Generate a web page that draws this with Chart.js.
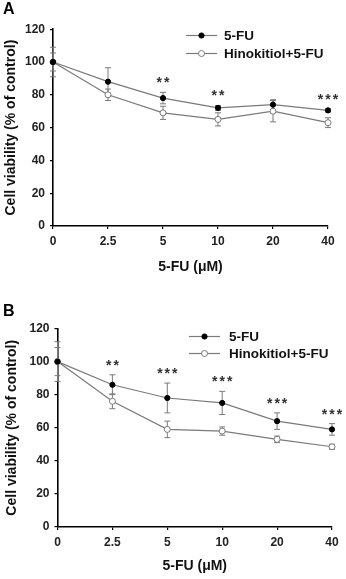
<!DOCTYPE html>
<html><head><meta charset="utf-8">
<script src="https://cdn.jsdelivr.net/npm/chart.js@4"></script>
<style>
html,body{margin:0;padding:0;background:#fff;width:346px;height:579px;overflow:hidden}
.p{position:absolute;left:0;width:346px}
#wa{top:0;height:290px}
#wb{top:290px;height:289px}
</style></head><body>
<div class="p" id="wa"><canvas id="ca"></canvas></div>
<div class="p" id="wb"><canvas id="cb"></canvas></div>
<script>
const doses = ['0', '2.5', '5', '10', '20', '40'];
const seriesNames = ['5-FU', 'Hinokitiol+5-FU'];
const xTitle = '5-FU (\u03BCM)';
const yTitle = 'Cell viability (% of control)';

// Panel A
const fuA = [100, 88, 78, 72, 74, 70.5];
const fuErrA = [9, 8.5, 3.5, 1.5, 3, 1];
const hinoA = [100, 80, 69, 65, 70, 63];
const hinoErrA = [5.5, 3.5, 4, 4, 6.5, 3];
const starsA = ['', '', '**', '**', '', '***'];

// Panel B
const fuB = [100, 86, 78, 75, 64, 59];
const fuErrB = [12, 6, 9, 7, 5, 3.5];
const hinoB = [100, 76, 59, 58, 53, 48.5];
const hinoErrB = [8.5, 4.5, 5, 2.5, 2, 1.5];
const starsB = ['', '**', '***', '***', '***', '***'];

const FONT = "'Liberation Sans', Arial, Helvetica, sans-serif";
const GRAY = '#7a7a7a';

const errorBarPlugin = {
  id: 'errorBars',
  beforeDatasetsDraw(chart) {
    const ctx = chart.ctx, ys = chart.scales.y, xs = chart.scales.x;
    ctx.save();
    ctx.strokeStyle = GRAY;
    ctx.lineWidth = 1;
    chart.data.datasets.forEach(ds => {
      ds.data.forEach((v, i) => {
        const e = ds.errors[i];
        const x = xs.getPixelForValue(i);
        const y1 = ys.getPixelForValue(v + e), y2 = ys.getPixelForValue(v - e);
        ctx.beginPath();
        ctx.moveTo(x, y1); ctx.lineTo(x, y2);
        ctx.moveTo(x - 3, y1); ctx.lineTo(x + 3, y1);
        ctx.moveTo(x - 3, y2); ctx.lineTo(x + 3, y2);
        ctx.stroke();
      });
    });
    ctx.restore();
  }
};

const starsPlugin = {
  id: 'stars',
  afterDatasetsDraw(chart, args, opts) {
    const ctx = chart.ctx, ys = chart.scales.y, xs = chart.scales.x;
    ctx.save();
    ctx.fillStyle = '#333';
    ctx.font = 'bold 14px ' + FONT;
    ctx.textAlign = 'center';
    ctx.textBaseline = 'alphabetic';
    try { ctx.letterSpacing = '2px'; } catch (e) {}
    opts.marks.forEach((s, i) => {
      if (!s) return;
      let top = -Infinity;
      chart.data.datasets.forEach(ds => { top = Math.max(top, ds.data[i] + ds.errors[i]); });
      const x = xs.getPixelForValue(i) + 1;
      const y = ys.getPixelForValue(top) - 5;
      ctx.fillText(s, x, y);
    });
    ctx.restore();
  }
};

const lineLegendPlugin = {
  id: 'lineLegend',
  afterDraw(chart, args, o) {
    const ctx = chart.ctx;
    ctx.save();
    chart.data.datasets.forEach((ds, k) => {
      const y = o.rows[k];
      ctx.strokeStyle = ds.borderColor;
      ctx.lineWidth = ds.borderWidth;
      ctx.beginPath(); ctx.moveTo(o.x1, y); ctx.lineTo(o.x2, y); ctx.stroke();
      ctx.beginPath();
      ctx.arc((o.x1 + o.x2) / 2, y, ds.pointRadius, 0, Math.PI * 2);
      ctx.fillStyle = ds.pointBackgroundColor;
      ctx.fill();
      ctx.lineWidth = 1;
      ctx.strokeStyle = ds.pointBorderColor;
      ctx.stroke();
      ctx.fillStyle = '#111';
      ctx.font = 'bold 13.5px ' + FONT;
      ctx.textAlign = 'left';
      ctx.textBaseline = 'middle';
      ctx.fillText(ds.label, o.tx, y + 0.5);
    });
    ctx.restore();
  }
};

function makeChart(id, panel, fu, fuErr, hino, hinoErr, marks, L) {
  return new Chart(document.getElementById(id), {
    type: 'line',
    data: {
      labels: doses,
      datasets: [
        { label: seriesNames[0], data: fu, errors: fuErr,
          borderColor: GRAY, borderWidth: 1.2, tension: 0,
          pointRadius: 2.6, pointBackgroundColor: '#000', pointBorderColor: '#000', pointBorderWidth: 1 },
        { label: seriesNames[1], data: hino, errors: hinoErr,
          borderColor: GRAY, borderWidth: 1.2, tension: 0,
          pointRadius: 3, pointBackgroundColor: '#fff', pointBorderColor: GRAY, pointBorderWidth: 1 }
      ]
    },
    options: {
      responsive: true, maintainAspectRatio: false, animation: false, devicePixelRatio: 1,
      layout: { padding: { left: L.padLeft, right: L.padRight, top: 0, bottom: 0 } },
      plugins: {
        legend: { display: false },
        tooltip: { enabled: false },
        title: { display: true, text: panel, align: 'start', color: '#000',
          font: { family: FONT, size: 16, weight: 'bold' },
          padding: { top: L.titleTop, bottom: L.titleBottom } },
        stars: { marks: marks },
        lineLegend: L.legend
      },
      scales: {
        x: {
          type: 'category', offset: false,
          grid: { display: true, drawOnChartArea: false, drawTicks: true, tickLength: 3, color: '#000', lineWidth: 1.2 },
          border: { display: true, color: '#000', width: 1.6 },
          ticks: { color: '#222', padding: 5, maxRotation: 0, font: { family: FONT, size: 12, weight: 'bold' } },
          title: { display: true, text: xTitle, color: '#111',
            font: { family: FONT, size: 14, weight: 'bold' }, padding: { top: 0, bottom: L.xTitleBottom } },
          afterFit: s => { s.height = L.xHeight; }
        },
        y: {
          min: 0, max: 120,
          grid: { display: true, drawOnChartArea: false, drawTicks: true, tickLength: 3, color: '#000', lineWidth: 1.2 },
          border: { display: true, color: '#000', width: 1.6 },
          ticks: { stepSize: 20, color: '#222', padding: 5, font: { family: FONT, size: 12, weight: 'bold' } },
          title: { display: true, text: yTitle, color: '#111',
            font: { family: FONT, size: 14, weight: 'bold' }, padding: { top: L.yTitleTop, bottom: 0 } },
          afterFit: s => { s.width = L.yWidth; }
        }
      }
    },
    plugins: [errorBarPlugin, starsPlugin, lineLegendPlugin]
  });
}

makeChart('ca', 'A', fuA, fuErrA, hinoA, hinoErrA, starsA, {
  padLeft: 3, padRight: 18, yWidth: 50, xHeight: 64,
  titleTop: 0.2, titleBottom: 9.8, yTitleTop: 0, xTitleBottom: 14.6,
  legend: { x1: 186, x2: 217, tx: 224, rows: [35.5, 53.5] }
});
makeChart('cb', 'B', fuB, fuErrB, hinoB, hinoErrB, starsB, {
  padLeft: 3, padRight: 14, yWidth: 54.5, xHeight: 52,
  titleTop: 12.2, titleBottom: 7.1, yTitleTop: 1, xTitleBottom: 4.1,
  legend: { x1: 189, x2: 220, tx: 229, rows: [46.5, 63.5] }
});
</script>
</body></html>
